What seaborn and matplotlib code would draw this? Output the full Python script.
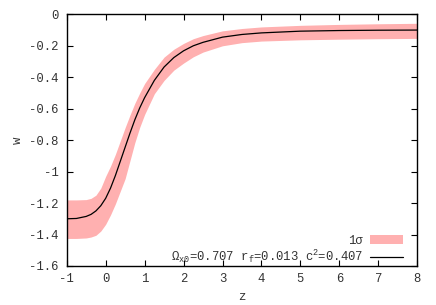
import numpy as np
import pandas as pd
import matplotlib
matplotlib.use("Agg")
import matplotlib.pyplot as plt
import seaborn as sns

# values
z = [-1, -0.75, -0.5, -0.375, -0.25, -0.125, 0, 0.125, 0.25, 0.375, 0.5, 0.625,
     0.75, 0.875, 1.0, 1.25, 1.5, 1.75, 2.0, 2.25, 2.5, 3, 3.5, 4, 5, 6, 7, 8]
w_best = [-1.300, -1.298, -1.285, -1.272, -1.250, -1.217, -1.170, -1.105, -1.025,
          -0.935, -0.845, -0.755, -0.670, -0.595, -0.530, -0.420, -0.335, -0.275,
          -0.232, -0.200, -0.178, -0.145, -0.128, -0.118, -0.107, -0.103, -0.101, -0.100]
w_upper = [-1.180, -1.180, -1.178, -1.170, -1.150, -1.105, -1.030, -0.965, -0.890,
           -0.805, -0.720, -0.640, -0.565, -0.500, -0.440, -0.350, -0.272, -0.222,
           -0.185, -0.155, -0.135, -0.105, -0.090, -0.080, -0.070, -0.064, -0.060, -0.057]
w_lower = [-1.425, -1.425, -1.422, -1.416, -1.405, -1.378, -1.335, -1.275, -1.205,
           -1.125, -1.045, -0.930, -0.815, -0.718, -0.637, -0.505, -0.420, -0.355,
           -0.310, -0.270, -0.240, -0.200, -0.180, -0.170, -0.162, -0.158, -0.155, -0.153]

x_ticks = [-1, 0, 1, 2, 3, 4, 5, 6, 7, 8]
y_ticks = [0, -0.2, -0.4, -0.6, -0.8, -1, -1.2, -1.4, -1.6]
y_ticklabels = ["0", "-0.2", "-0.4", "-0.6", "-0.8", "-1", "-1.2", "-1.4", "-1.6"]
band_label = "1σ"
fit_label = "Ω$_{x0}$=0.707 r$_f$=0.013 c$^2$=0.407"

sns.set_style("ticks")
plt.rcParams["font.family"] = ["Liberation Mono", "DejaVu Sans Mono"]
plt.rcParams["mathtext.fontset"] = "custom"
plt.rcParams["mathtext.rm"] = "Liberation Mono"
plt.rcParams["mathtext.it"] = "Liberation Mono"
plt.rcParams["mathtext.default"] = "regular"
plt.rcParams["axes.unicode_minus"] = False
FS = 8.8

df = pd.DataFrame({"z": z, "w": w_best, "lo": w_lower, "hi": w_upper})

fig = plt.figure(figsize=(4.36, 3.05), dpi=100)
ax = fig.add_axes([0.153, 0.128, 0.804, 0.825])

band = ax.fill_between(df["z"], df["lo"], df["hi"], color="#ffb0b0", lw=0, label=band_label)
sns.lineplot(data=df, x="z", y="w", color="black", lw=0.9, ax=ax, label=fit_label)

ax.set_xlim(-1, 8)
ax.set_ylim(-1.6, 0)
ax.set_xticks(x_ticks)
ax.set_xticklabels([str(t) for t in x_ticks])
ax.set_yticks(y_ticks)
ax.set_yticklabels(y_ticklabels)
ax.tick_params(direction="in", length=4, width=0.8, top=True, right=True,
               labelsize=FS, colors="black", labelcolor="#333333")
ax.tick_params(axis="x", pad=5)
ax.tick_params(axis="y", pad=6)
for s in ax.spines.values():
    s.set_linewidth(1.0)
    s.set_color("black")

ax.set_xlabel("z", fontsize=FS, color="#333333")
ax.set_ylabel("w", fontsize=FS, color="#333333")
ax.xaxis.label.set_va("center")
ax.yaxis.label.set_va("center")
ax.xaxis.set_label_coords(0.5, -0.123)
ax.yaxis.set_label_coords(-0.139, 0.5)

line = ax.get_lines()[0]
ax.legend([band, line], [band_label, fit_label], loc="lower right",
          bbox_to_anchor=(0.958, 0.004), frameon=False, markerfirst=False,
          fontsize=FS, handlelength=2.7, handletextpad=0.55, labelspacing=0.05,
          borderpad=0, borderaxespad=0, labelcolor="#333333")

fig.savefig("out.png", dpi=100)
